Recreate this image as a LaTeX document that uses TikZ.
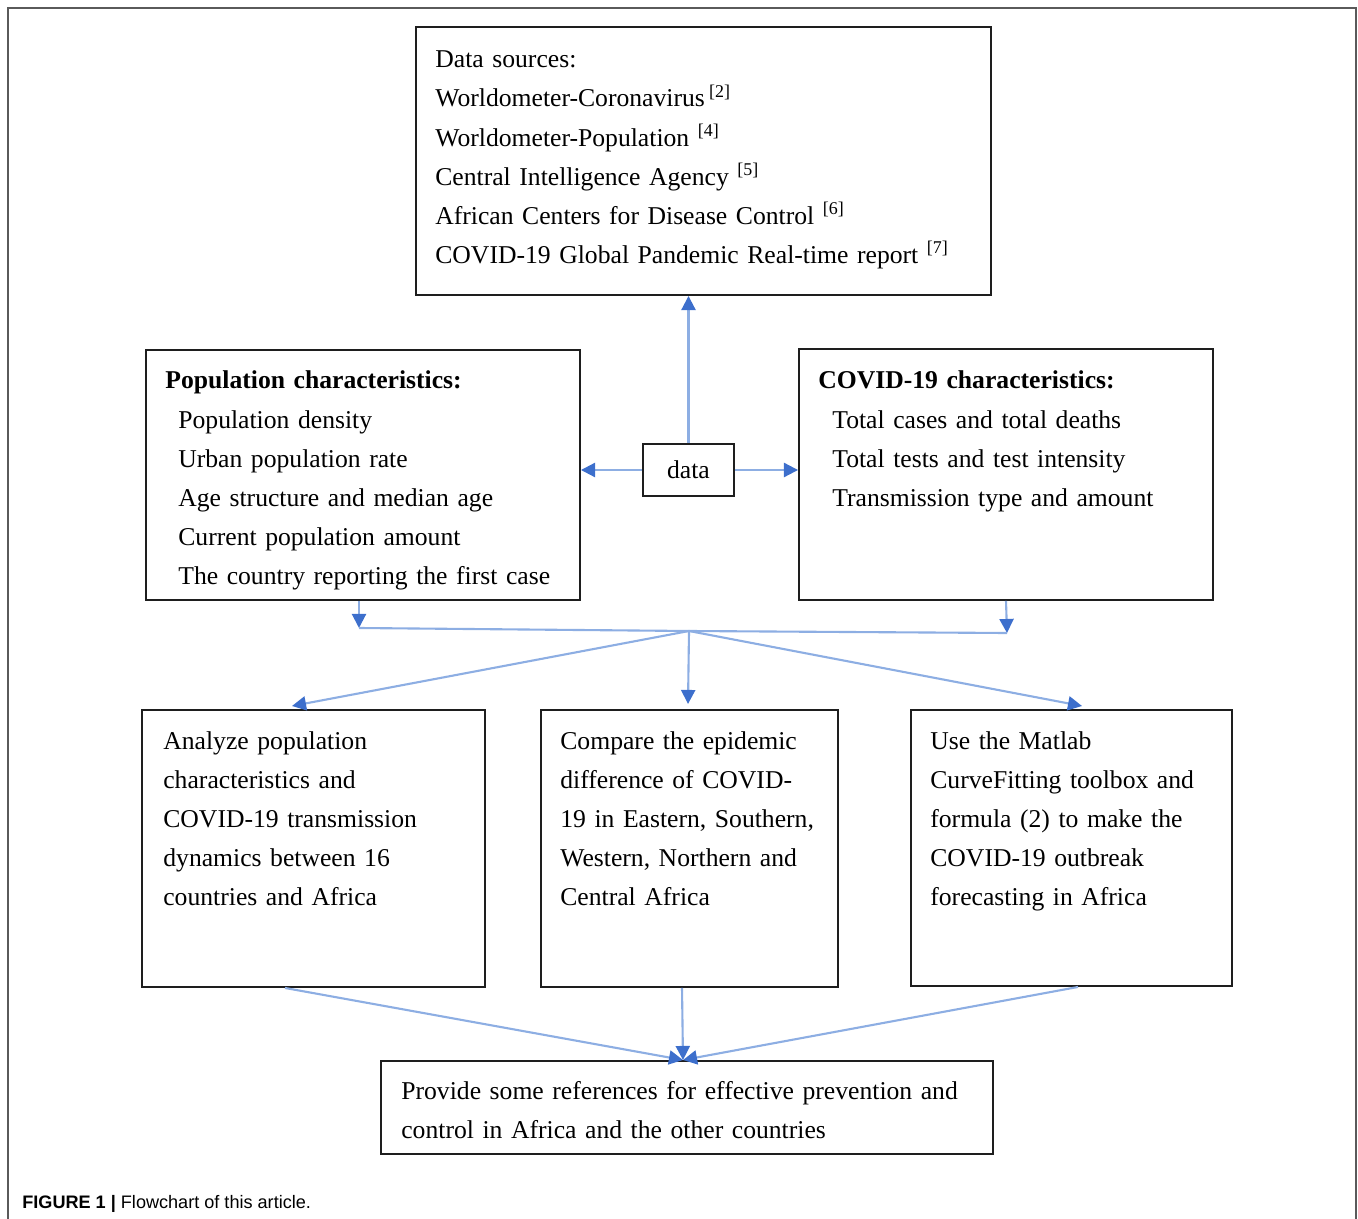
\documentclass[tikz,border=0pt]{standalone}
\usepackage{fontspec}
\setmainfont{Liberation Serif}
\newfontfamily\capfont{Liberation Sans}
\usetikzlibrary{arrows.meta,fit}
\definecolor{lineblue}{HTML}{8DAEE3}
\definecolor{tipblue}{HTML}{3D6FCC}
\definecolor{boxline}{HTML}{1E1E1E}
\definecolor{framegray}{HTML}{5A5A5A}
\begin{document}
\begin{tikzpicture}[x=0.02cm,y=-0.02cm,
  box/.style={draw=boxline,line width=1.1pt,inner sep=0pt},
  txt/.style={anchor=base west,inner sep=0pt,align=left,font=\fontsize{14.6}{22.2}\selectfont},
  arr/.style={draw=lineblue,line width=1.2pt,-{Triangle[length=8pt,width=8pt,color=tipblue]}},
  lin/.style={draw=lineblue,line width=1.2pt}
]
\useasboundingbox (0,0) rectangle (1358,1219);
\draw[framegray,line width=1.1pt] (8,1219) -- (8,8) -- (1356,8) -- (1356,1219);

% boxes
\node[box,fit={(416,27) (991,295)}] (ds) {};
\node[box,fit={(146,350) (580,600)}] (pop) {};
\node[box,fit={(799,349) (1213,600)}] (cov) {};
\node[box,minimum width=1.82cm,minimum height=1.04cm,font=\fontsize{14.6}{22.2}\selectfont] (dt) at (688.5,470) {data};
\node[box,fit={(142,710) (485,987)}] (an) {};
\node[box,fit={(541,710) (838,987)}] (cmp) {};
\node[box,fit={(911,710) (1232,986)}] (use) {};
\node[box,fit={(381,1061) (993,1154)}] (pv) {};

% texts
\node[txt,text width=10.8cm] (dst) at (435,68) {Data sources:\\
Worldometer-Coronavirus\,\textsuperscript{[2]}\\
Worldometer-Population \textsuperscript{[4]}\\
Central Intelligence Agency \textsuperscript{[5]}\\
African Centers for Disease Control \textsuperscript{[6]}\\
COVID-19 Global Pandemic Real-time report \textsuperscript{[7]}};
\node[txt,text width=8cm] (popt) at (165,389) {\textbf{Population characteristics:}\\
\hspace*{0.26cm}Population density\\
\hspace*{0.26cm}Urban population rate\\
\hspace*{0.26cm}Age structure and median age\\
\hspace*{0.26cm}Current population amount\\
\hspace*{0.26cm}The country reporting the first case};
\node[txt,text width=7.6cm] (covt) at (818,389) {\textbf{COVID-19 characteristics:}\\
\hspace*{0.28cm}Total cases and total deaths\\
\hspace*{0.28cm}Total tests and test intensity\\
\hspace*{0.28cm}Transmission type and amount};
\node[txt,text width=6.2cm] (ant) at (163,749) {Analyze population\\
characteristics and\\
COVID-19 transmission\\
dynamics between 16\\
countries and Africa};
\node[txt,text width=5.4cm] (cmpt) at (560,749) {Compare the epidemic\\
difference of COVID-\\
19 in Eastern, Southern,\\
Western, Northern and\\
Central Africa};
\node[txt,text width=5.8cm] (uset) at (930,749) {Use the Matlab\\
CurveFitting toolbox and\\
formula (2) to make the\\
COVID-19 outbreak\\
forecasting in Africa};
\node[txt,text width=11.6cm] (pvt) at (401,1099) {Provide some references for effective prevention and\\
control in Africa and the other countries};

% caption
\node[anchor=base west,inner sep=0pt,font=\capfont\fontsize{10.3}{12}\selectfont] (cap) at (22,1208) {\textbf{FIGURE 1 |} Flowchart of this article.};

% connectors from data
\draw[arr] (dt.north) -- (dt.north |- ds.south);
\draw[arr] (dt.west) -- (dt.west -| pop.east);
\draw[arr] (dt.east) -- (dt.east -| cov.west);

% merge
\coordinate (pl) at (359,628);
\coordinate (cr) at (1007,633);
\coordinate (j) at (689,631);
\draw[arr] (pl |- pop.south) -- (pl);
\draw[arr] (1006,0 |- cov.south) -- (cr);
\draw[lin] (pl) -- (j) -- (cr);
\coordinate (t1) at (292,706);
\coordinate (t2) at (688,704);
\coordinate (t3) at (1082,706);
\draw[arr] (j) -- (t1);
\draw[arr] (j) -- (t2);
\draw[arr] (j) -- (t3);

% to final box
\coordinate (m) at (683,1060);
\draw[arr] (285,0 |- an.south) -- (m);
\draw[arr] (682,0 |- cmp.south) -- (m);
\draw[arr] (1078,0 |- use.south) -- (m);
\end{tikzpicture}
\end{document}
